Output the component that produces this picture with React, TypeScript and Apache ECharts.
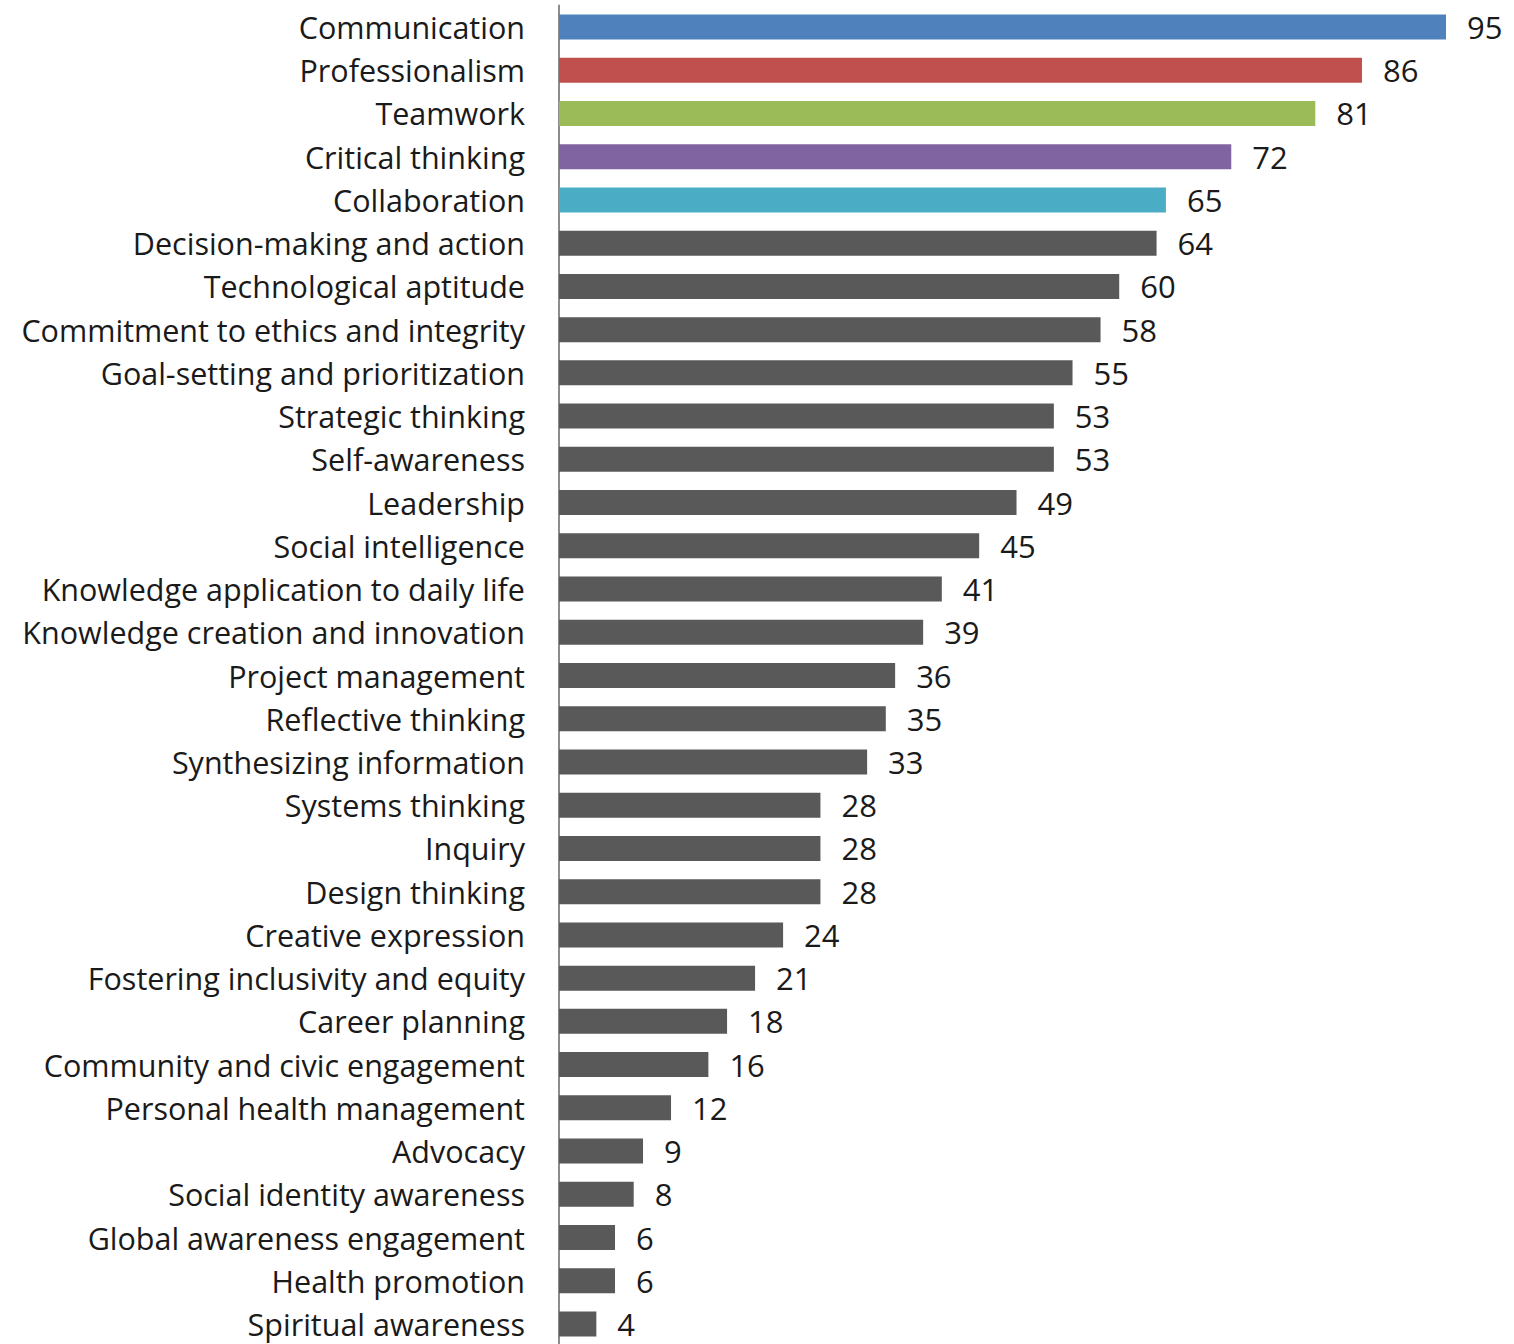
import React, { useEffect, useRef } from "react";
import * as echarts from "echarts";

const categories = [
  "Communication",
  "Professionalism",
  "Teamwork",
  "Critical thinking",
  "Collaboration",
  "Decision-making and action",
  "Technological aptitude",
  "Commitment to ethics and integrity",
  "Goal-setting and prioritization",
  "Strategic thinking",
  "Self-awareness",
  "Leadership",
  "Social intelligence",
  "Knowledge application to daily life",
  "Knowledge creation and innovation",
  "Project management",
  "Reflective thinking",
  "Synthesizing information",
  "Systems thinking",
  "Inquiry",
  "Design thinking",
  "Creative expression",
  "Fostering inclusivity and equity",
  "Career planning",
  "Community and civic engagement",
  "Personal health management",
  "Advocacy",
  "Social identity awareness",
  "Global awareness engagement",
  "Health promotion",
  "Spiritual awareness",
];

const values = [95, 86, 81, 72, 65, 64, 60, 58, 55, 53, 53, 49, 45, 41, 39, 36, 35, 33, 28, 28, 28, 24, 21, 18, 16, 12, 9, 8, 6, 6, 4];

const highlightColors = ["#4F81BD", "#C0504D", "#9BBB59", "#8064A2", "#4BACC6"];
const defaultColor = "#595959";

export default function App() {
  const ref = useRef<HTMLDivElement>(null);
  useEffect(() => {
    if (!ref.current) return;
    const chart = echarts.init(ref.current, undefined, { renderer: "svg" });
    const font = "'Open Sans', 'Noto Sans', sans-serif";
    chart.setOption({
      animation: false,
      backgroundColor: "#ffffff",
      grid: { left: 559, right: 21.3, top: 5.4, bottom: 14.4, containLabel: false },
      xAxis: {
        type: "value",
        min: 0,
        max: 100,
        show: false,
      },
      yAxis: {
        type: "category",
        data: categories,
        inverse: true,
        axisLine: { show: true, lineStyle: { color: "#8c8c8c", width: 2 } },
        axisTick: { show: false },
        axisLabel: {
          margin: 34,
          color: "#1a1a1a",
          fontSize: 30.5,
          fontFamily: font,
        },
        splitLine: { show: false },
      },
      series: [
        {
          type: "bar",
          barWidth: 25,
          data: values.map((v, i) => ({
            value: v,
            itemStyle: { color: i < highlightColors.length ? highlightColors[i] : defaultColor },
          })),
          label: {
            show: true,
            position: "right",
            distance: 21,
            color: "#1a1a1a",
            fontSize: 31,
            fontFamily: font,
          },
        },
      ],
    });
    return () => chart.dispose();
  }, []);
  return (
    <div
      ref={ref}
      style={{ position: "absolute", left: 0, top: 0, width: 1514, height: 1360 }}
    />
  );
}
